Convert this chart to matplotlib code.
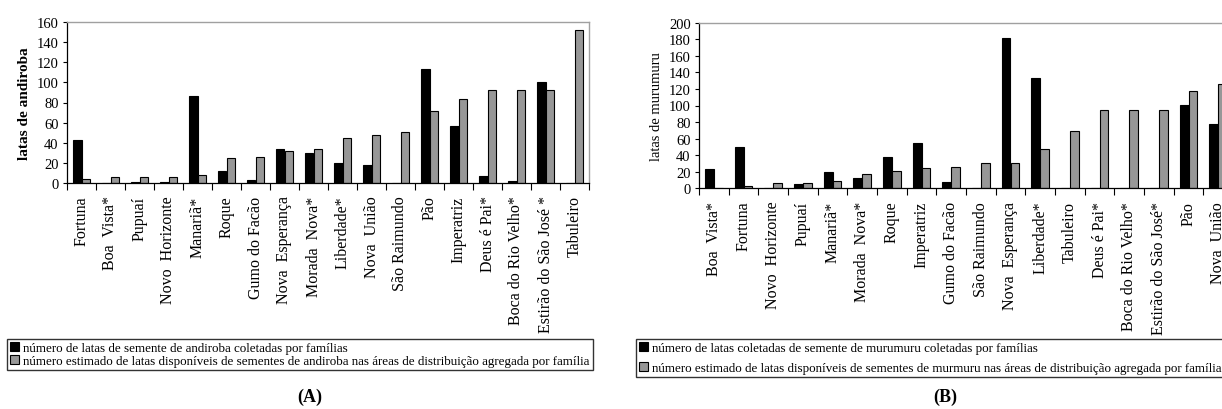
import matplotlib
matplotlib.use("Agg")
import matplotlib.pyplot as plt
import numpy as np
from matplotlib.patches import Patch

plt.rcParams['font.family'] = ['Liberation Serif', 'DejaVu Serif']

# ---- Panel A data (andiroba) ----
cats_a = ["Fortuna", "Boa  Vista*", "Pupuaí", "Novo  Horizonte", "Manariã*", "Roque",
          "Gumo do Facão", "Nova  Esperança", "Morada  Nova*", "Liberdade*", "Nova  União",
          "São Raimundo", "Pão", "Imperatriz", "Deus é Pai*", "Boca do Rio Velho*",
          "Estirão do São José *", "Tabuleiro"]
coletadas_a = [43, 0, 1, 1, 86, 12, 3, 34, 30, 20, 17.5, 0, 113, 57, 7, 2, 100, 0]
estimadas_a = [4, 6, 6, 6, 8, 24.5, 25.5, 32, 34, 45, 48, 51, 72, 83, 92, 92, 92, 152]
yticks_a = [0, 20, 40, 60, 80, 100, 120, 140, 160]

# ---- Panel B data (murumuru) ----
cats_b = ["Boa  Vista*", "Fortuna", "Novo  Horizonte", "Pupuaí", "Manariã*", "Morada  Nova*",
          "Roque", "Imperatriz", "Gumo do Facão", "São Raimundo", "Nova  Esperança",
          "Liberdade*", "Tabuleiro", "Deus é Pai*", "Boca do Rio Velho*",
          "Estirão do São José*", "Pão", "Nova  União"]
coletadas_b = [23, 50, 0, 5, 20, 12.5, 38, 55, 8, 0, 182, 133, 0, 0, 0, 0, 101, 77.5]
estimadas_b = [0, 3, 6, 6, 9, 17, 20.5, 24.5, 26, 30.5, 31, 48, 69, 94, 94, 94, 117.5, 126]
yticks_b = [0, 20, 40, 60, 80, 100, 120, 140, 160, 180, 200]

leg_a = ["número de latas de semente de andiroba coletadas por famílias",
         "número estimado de latas disponíveis de sementes de andiroba nas áreas de distribuição agregada por família"]
leg_b = ["número de latas coletadas de semente de murumuru coletadas por famílias",
         "número estimado de latas disponíveis de sementes de murmuru nas áreas de distribuição agregada por família"]

BLACK = "#000000"
GRAY = "#979797"
W, H = 1222, 410
fig = plt.figure(figsize=(W / 100, H / 100), dpi=100)


def px_axes(x0, x1, ytop, ybot):
    return fig.add_axes([x0 / W, 1 - ybot / H, (x1 - x0) / W, (ybot - ytop) / H])


def draw(ax, cats, v1, v2, yticks, ylabel, bold):
    x = np.arange(len(cats))
    ax.bar(x - 0.15, v1, width=0.3, color=BLACK, edgecolor=BLACK, linewidth=0.8)
    ax.bar(x + 0.15, v2, width=0.3, color=GRAY, edgecolor=BLACK, linewidth=0.8)
    ax.set_xlim(-0.5, len(cats) - 0.5)
    ax.set_ylim(yticks[0], yticks[-1])
    ax.set_yticks(yticks)
    ax.tick_params(axis='y', labelsize=10.5, length=3, width=0.8, pad=3)
    ax.set_xticks(np.arange(len(cats) + 1) - 0.5)
    ax.set_xticklabels([])
    ax.tick_params(axis='x', length=5, width=0.8)
    ax.set_xticks(x, minor=True)
    ax.set_xticklabels(cats, minor=True, rotation=90, fontsize=11.5, va='top', ha='center')
    ax.tick_params(axis='x', which='minor', length=0, pad=9)
    for s in ['top', 'right']:
        ax.spines[s].set_color('#a0a0a0')
        ax.spines[s].set_linewidth(1.0)
    for s in ['left', 'bottom']:
        ax.spines[s].set_color(BLACK)
        ax.spines[s].set_linewidth(0.9)
    ax.set_ylabel(ylabel, fontsize=11 if bold else 10.5, fontweight='bold' if bold else 'normal', labelpad=4)


ax_a = px_axes(67, 589, 23, 184)
draw(ax_a, cats_a, coletadas_a, estimadas_a, yticks_a, "latas de andiroba", True)
ax_b = px_axes(699, 1233, 23.7, 189.3)
draw(ax_b, cats_b, coletadas_b, estimadas_b, yticks_b, "latas de murumuru", False)

handles = [Patch(facecolor=BLACK, edgecolor=BLACK, linewidth=0.8),
           Patch(facecolor=GRAY, edgecolor=BLACK, linewidth=0.8)]


def legend(labels, x, ytop, spacing):
    lg = fig.legend(handles, labels, loc='upper left', bbox_to_anchor=(x / W, 1 - ytop / H),
                    frameon=True, fancybox=False, fontsize=9.4, handlelength=0.7, handleheight=0.7,
                    handletextpad=0.3, borderpad=0.25, labelspacing=spacing, borderaxespad=0)
    lg.get_frame().set_edgecolor(BLACK)
    lg.get_frame().set_linewidth(1.0)
    return lg


legend(leg_a, 7, 340, 0.05)
legend(leg_b, 636, 340, 0.55)

fig.text(310 / W, 1 - 397 / H, "(A)", ha='center', va='center', fontsize=13, fontweight='bold')
fig.text(945 / W, 1 - 397 / H, "(B)", ha='center', va='center', fontsize=13, fontweight='bold')

fig.savefig("out.png", dpi=100)
